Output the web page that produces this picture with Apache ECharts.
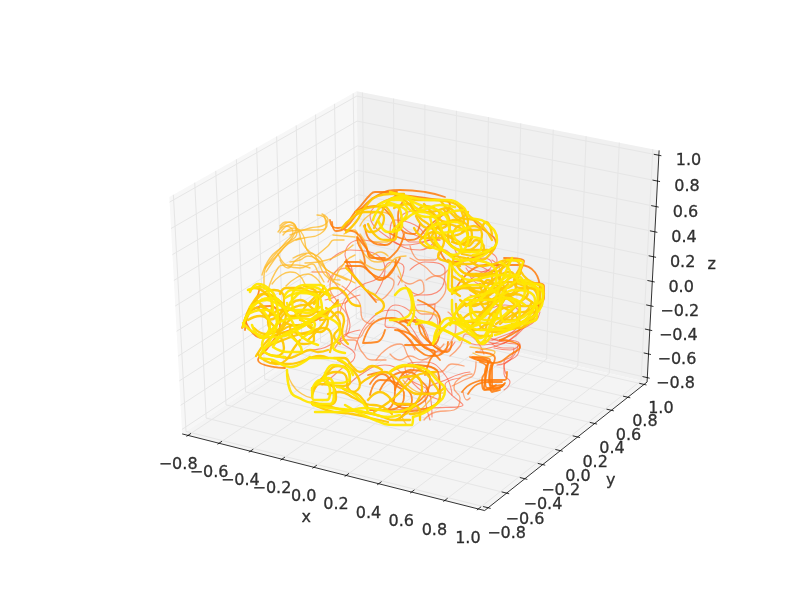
<!DOCTYPE html>
<html><head><meta charset="utf-8">
<style>html,body{margin:0;padding:0;background:#fff}#c{width:800px;height:600px}</style>
<script src="https://cdn.jsdelivr.net/npm/echarts@6/dist/echarts.min.js"></script>
</head><body><div id="c"></div>
<script>
// axis tick values (data units)
const xTicks = [-0.8,-0.6,-0.4,-0.2,0,0.2,0.4,0.6,0.8,1.0];
const yTicks = [-0.8,-0.6,-0.4,-0.2,0,0.2,0.4,0.6,0.8,1.0];
const zTicks = [-0.8,-0.6,-0.4,-0.2,0,0.2,0.4,0.6,0.8,1.0];
const axisNames = ['x','y','z'];

// streamlines, flat h,v pairs in the view plane
const redTraces = [
[-.30,-.06,-.26,.025,-.19,.075,-.11,.11,-.04,.19,.02,.16,-.01,.075],
[-.225,-.25,-.16,-.11,-.04,-.05,.05,-.13,.12,-.225,.21,-.26,.275,-.21],
[.085,-.025,.175,-.02,.17,-.06,.14,-.11],
[-.375,0,-.275,.05,-.24,.15,-.275,.225,-.2,.3,-.075,.275],
[.05,.15,.125,.19,.225,.15,.2,.05,.1,.025,.025,.075],
[.2,.3,.075,.325,0,.4,.1,.45,.225,.375],
[.275,-.175,.4,-.225,.575,-.15,.6,-.075,.525,-.025,.4,-.075],
[.4,-.25,.55,-.2,.65,-.11,.69,-.09],
[-.05,-.55,.15,-.54,.315,-.525,.225,-.425,.3,-.39],
[.15,-.6,.125,-.475,.25,-.39,.35,-.36],
[-.275,-.45,-.2,-.375,-.075,-.325,.05,-.4,.15,-.475,.16,-.585],
[-.39,-.425,-.3,-.35,-.225,-.275,-.3,-.2,-.2,-.15],
[-.45,-.25,-.35,-.225,-.25,-.125,-.275,-.025,-.2,.025],
[.2,-.5,.09,-.44,.025,-.34,.125,-.31,.225,-.375,.26,-.475],
[.35,.1,.45,.15,.5,.075,.45,0,.35,.025],
[.275,.25,.35,.16,.45,.14,.485,.2,.425,.25],
[0,.525,-.15,.425,-.04,.3,.1,.25,.2,.325],
[.15,.3,.025,.275,-.05,.325,-.025,.4,.075,.375,.125,.325],
[-.35,.2,-.25,.25,-.15,.24,-.075,.15,-.125,.025],
[.075,-.25,0,-.15,-.075,-.125,-.025,-.025,.1,-.11,.15,-.225],
[.45,-.19,.535,-.215,.59,-.225,.55,-.3,.485,-.325],
[.5,-.17,.58,-.13,.64,-.1,.68,-.07],
[.46,-.2,.54,-.17,.62,-.14,.68,-.1,.7,-.06],
[.42,-.2,.5,-.22,.56,-.19,.6,-.15],
[.33,.16,.38,.12,.43,.14,.46,.18,.42,.21,.37,.19],
[.35,.12,.4,.08,.46,.1,.5,.15,.46,.2],
[.36,.19,.42,.16,.46,.14,.49,.18],
[.01,.35,.05,.29,.1,.29,.16,.3,.2,.3],
[.47,-.24,.55,-.25,.6,-.22,.59,-.27,.52,-.33,.53,-.37],
[.44,-.2,.53,-.2,.59,-.21,.6,-.24],
[.46,-.22,.52,-.24,.57,-.24,.56,-.28,.52,-.31,.52,-.37,.55,-.41,.52,-.45]
];
const salmonTraces = [
[.07,-.02,.11,-.07,.16,-.07,.19,-.13,.17,-.2,.2,-.24],
[.22,-.22,.17,-.27,.11,-.3,.05,-.28,.0,-.3,-.05,-.27],
[.25,-.28,.3,-.23,.33,-.17,.38,-.2,.42,-.27],
[.24,-.06,.28,-.12,.26,-.2,.2,-.27],
[-.3,-.03,-.26,-.1,-.27,-.17,-.21,-.19,-.17,-.14,-.13,-.1],
[-.33,-.25,-.28,-.2,-.23,-.2,-.19,-.26,-.14,-.3,-.07,-.3],
[-.29,.07,-.24,.03,-.2,-.02,-.19,-.09,-.14,-.12],
[-.16,.05,-.11,0,-.06,.03,-.03,.09,-.08,.12],
[.13,.1,.18,.12,.23,.07,.2,0,.14,-.03],
[.05,.27,.1,.2,.17,.2,.22,.25,.27,.2],
[.05,.21,.12,.17,.19,.12,.24,.15],
[-.01,.12,.05,.08,.1,.1,.12,.05,.07,.02],
[-.12,-.3,-.06,-.24,0,-.22,.04,-.28,.07,-.34,.02,-.38],
[.02,-.42,.08,-.36,.14,-.33,.2,-.36,.26,-.32,.32,-.33],
[.12,-.6,.18,-.56,.27,-.55,.3,-.49,.27,-.44,.3,-.39,.36,-.37],
[.26,-.43,.32,-.4,.37,-.37,.38,-.31],
[.315,-.46,.335,-.5,.35,-.49],
[-.44,.14,-.38,.14,-.33,.09,-.3,.05,-.26,0,-.32,-.02,-.36,.03],
[-.36,.09,-.31,.15,-.26,.16,-.22,.11,-.18,.07],
[-.28,.18,-.33,.13,-.35,.06,-.31,-.03,-.31,-.1]
];
const orangeTraces = [
[.36,-.285,.45,-.3,.425,-.36,.435,-.44,.49,-.44,.525,-.415],
[.31,-.46,.365,-.415,.45,-.4,.525,-.4,.535,-.36],
[.35,-.285,.465,-.315,.565,-.265,.6,-.235,.565,-.21,.5,-.2],
[.455,-.325,.445,-.39,.46,-.43,.515,-.425],
[.4,-.31,.435,-.34,.41,-.4,.425,-.45,.48,-.425],
[.38,-.26,.475,-.29,.45,-.375,.46,-.46,.5,-.45],
[.37,-.29,.44,-.31,.43,-.38,.42,-.44,.47,-.45,.52,-.42],
[.39,-.3,.46,-.32,.46,-.4,.47,-.445,.51,-.43],
[.34,-.47,.39,-.42,.44,-.41,.51,-.41],
[0,-.11,.075,-.1,.11,-.175,.185,-.24,.235,-.26,.26,-.21],
[.025,-.1,.1,-.125,.14,-.2,.21,-.26],
[-.025,-.15,.06,-.175,.125,-.24,.175,-.26,.15,-.3,.125,-.375],
[-.04,-.1,.02,-.13,.06,-.18,.1,-.22,.16,-.26,.2,-.3],
[-.01,-.15,.05,-.2,.09,-.25,.16,-.28,.22,-.26,.24,-.21],
[-.35,.4,-.335,.365,-.31,.36,-.215,.45,-.15,.525,-.125,.54,-.015,.54],
[-.34,.39,-.32,.345,-.275,.36,-.19,.46,-.11,.525,0,.55,.125,.54,.225,.515],
[-.215,.315,-.21,.285,-.185,.235,-.175,.185],
[-.275,.35,-.225,.34,-.175,.275,-.14,.21,-.075,.21],
[-.275,.19,-.21,.19,-.15,.14,-.1,.1,-.04,.15,0,.21],
[-.225,.44,-.125,.47,-.05,.425,-.025,.35,-.075,.275,-.15,.3,-.175,.375],
[-.21,.31,-.17,.26,-.14,.22,-.08,.2,-.03,.23,0,.27,.02,.33],
[-.27,.17,-.2,.17,-.14,.13,-.09,.11,-.04,.14,-.02,.2],
[-.27,.2,-.24,.13,-.18,.06,-.12,-.01],
[.02,.5,-.01,.42,.02,.34,.07,.33,.1,.38],
[-.775,-.15,-.74,-.05,-.65,-.03,-.6,-.125,-.65,-.225,-.71,-.3,-.575,-.34],
[-.775,-.1,-.69,-.19,-.55,-.15,-.4,-.09,-.31,0],
[-.79,-.14,-.76,-.06,-.72,0,-.7,.07,-.76,.05],
[.3,.475,.39,.375,.48,.285,.36,.21,.25,.19,.2,.25],
[.275,.05,.425,.175,.6,.175,.7,.05,.65,-.1,.5,-.2],
[.52,.21,.62,.195,.59,.1,.72,.07,.72,.01,.66,-.04],
[-.025,.525,.125,.51,.25,.475,.15,.375,.05,.3,-.06,.34],
[.075,-.325,.19,-.36,.2,-.475,.1,-.55,-.025,-.56],
[-.025,-.45,.05,-.35,.15,-.39,.125,-.475,.025,-.525,-.05,-.5],
[-.16,-.375,-.075,-.36,-.025,-.45,-.075,-.55,-.15,-.55],
[-.15,-.475,-.1,-.4,0,-.425,.06,-.5,0,-.59],
[-.075,-.15,-.115,-.21,-.185,-.215,-.125,-.11,-.04,-.09,.05,-.125],
[.09,0,.2,-.1,.16,-.225,.025,-.225],
[-.1,-.45,-.04,-.38,.04,-.36,.1,-.4,.14,-.46,.1,-.52,.02,-.54,-.04,-.5],
[-.15,-.42,-.09,-.37,-.03,-.42,.02,-.47,0,-.53,-.07,-.55]
];
const amberTraces = [
[-.675,.16,-.635,.215,-.575,.285,-.535,.34,-.57,.37,-.61,.34],
[-.69,.125,-.65,.21,-.585,.27,-.515,.34,-.55,.39,-.6,.36],
[-.6,.335,-.55,.375,-.51,.35,-.49,.29,-.45,.24,-.4,.21,-.365,.15,-.285,.115,-.225,.085],
[-.585,.325,-.53,.36,-.485,.325,-.465,.25,-.41,.19,-.375,.125,-.3,.075],
[-.585,.34,-.485,.35,-.4,.35,-.365,.375,-.38,.415,-.415,.425],
[-.55,.325,-.45,.36,-.39,.37,-.36,.4,-.39,.43],
[-.475,.185,-.365,.2,-.235,.275],
[-.335,.09,-.275,.19,-.225,.225],
[-.66,.05,-.61,.16,-.575,.175,-.515,.175,-.45,.16],
[-.535,.21,-.45,.235,-.4,.185,-.365,.15,-.265,.1],
[-.335,.325,-.225,.315],
[.165,-.215,.2,-.1,.05,-.05],
[.35,-.235,.45,-.25,.475,-.26,.435,-.285,.365,-.265],
[.015,-.4,.115,-.465,.215,-.465],
[-.67,.14,-.63,.2,-.59,.25,-.54,.31,-.52,.36,-.57,.39,-.6,.37],
[-.68,.05,-.68,.12,-.61,.23,-.56,.28,-.5,.31],
[-.55,.19,-.5,.2,-.46,.22,-.41,.2,-.38,.17,-.35,.11,-.3,.1],
[-.6,.2,-.56,.16,-.52,.2,-.47,.23],
[-.64,.08,-.6,.12,-.55,.14,-.5,.12,-.46,.06,-.42,.05],
[-.57,.07,-.52,.11,-.46,.13,-.42,.11,-.38,.06,-.34,.02],
[-.42,.22,-.36,.27,-.33,.3,-.28,.3],
[-.38,.42,-.37,.38,-.4,.33,-.48,.31,-.52,.3],
[-.56,-.37,-.54,-.42,-.49,-.47,-.44,-.49],
[.03,-.62,.01,-.58,.08,-.56,.15,-.5,.2,-.42,.16,-.36],
[-.2,.37,-.16,.42,-.1,.44,-.04,.41,-.03,.34,-.07,.29,-.13,.29],
[-.2,.33,-.17,.28,-.15,.22,-.1,.24,-.06,.22],
[-.61,.23,-.56,.17,-.5,.16,-.44,.18,-.41,.14,-.38,.09],
[-.28,.33,-.23,.35,-.2,.28,-.17,.22,-.11,.19,-.05,.2,-.01,.16,.01,.09],
[-.2,.2,-.16,.17,-.1,.15,-.06,.17,-.02,.21,.03,.22]
];
const goldTraces = [
[-.78,-.12,-.74,-.02,-.68,.03,-.62,.01,-.57,-.06,-.6,-.14,-.67,-.17,-.73,-.14],
[-.77,-.1,-.72,-.04,-.66,-.08,-.6,-.05,-.53,-.09,-.47,-.03,-.42,.02],
[-.73,.06,-.68,.04,-.64,-.03,-.66,-.11,-.62,-.16,-.55,-.13,-.48,-.12,-.42,-.08],
[-.7,-.03,-.63,-.07,-.56,-.12,-.5,-.13,-.43,-.1,-.37,-.06],
[-.68,-.18,-.62,-.13,-.58,-.07,-.51,-.03,-.45,-.02,-.4,.03,-.38,.07],
[-.72,-.28,-.66,-.2,-.61,-.17,-.55,-.16,-.47,-.17,-.42,-.15],
[-.71,-.27,-.68,-.3,-.62,-.32,-.57,-.3,-.53,-.24,-.5,-.2],
[-.64,-.31,-.56,-.32,-.5,-.31,-.45,-.29,-.4,-.28,-.36,-.29],
[-.46,-.2,-.42,-.16,-.38,-.11,-.35,-.05,-.31,-.01],
[-.6,.03,-.57,.06,-.5,.06,-.44,.04,-.39,.04,-.35,.02],
[-.67,.03,-.6,-.02,-.55,-.08,-.47,-.08,-.41,-.02,-.42,.04,-.48,.07],
[-.745,-.04,-.7,.02,-.63,.05,-.58,.01,-.6,-.07,-.66,-.1],
[-.5,-.1,-.44,-.14,-.43,-.2,-.48,-.22,-.53,-.19,-.55,-.13],
[-.68,-.24,-.61,-.21,-.53,-.18,-.46,-.16,-.38,-.14,-.34,-.2,-.35,-.26],
[-.6,-.16,-.54,-.09,-.46,-.05,-.4,-.06,-.36,-.1,-.4,-.16,-.46,-.13],
[-.72,0,-.66,-.05,-.62,-.08,-.56,-.03,-.5,0,-.44,-.04,-.39,-.08],
[-.76,-.1,-.7,-.08,-.64,-.12,-.6,-.18,-.58,-.24,-.62,-.28,-.68,-.26],
[-.62,-.28,-.56,-.29,-.5,-.27,-.45,-.25,-.41,-.26,-.36,-.25],
[-.44,-.48,-.4,-.42,-.34,-.43,-.32,-.49,-.37,-.53,-.44,-.52],
[-.43,-.44,-.37,-.37,-.31,-.33,-.26,-.35,-.25,-.41,-.3,-.43,-.36,-.42],
[-.44,-.51,-.36,-.53,-.28,-.55,-.19,-.56,-.1,-.58,-.03,-.6,.05,-.6],
[-.42,-.53,-.33,-.56,-.24,-.57,-.15,-.59,-.06,-.61],
[-.38,-.38,-.32,-.36,-.27,-.38,-.26,-.44,-.2,-.48,-.16,-.54],
[-.36,-.47,-.3,-.46,-.23,-.49,-.17,-.52,-.1,-.53,-.04,-.57],
[-.31,-.3,-.26,-.33,-.22,-.37,-.2,-.42,-.24,-.46,-.29,-.44],
[-.33,-.29,-.28,-.29,-.24,-.33,-.2,-.36,-.14,-.33,-.09,-.35],
[-.05,-.36,.04,-.33,.12,-.36,.17,-.42,.2,-.48,.13,-.55,.05,-.57],
[-.02,-.6,.04,-.56,.09,-.5,.11,-.44,.07,-.38,0,-.39],
[-.2,-.42,-.14,-.38,-.08,-.36,-.02,-.39,.03,-.44,.09,-.47,.16,-.47,.22,-.44],
[-.16,-.5,-.1,-.46,-.06,-.48,-.02,-.52,.04,-.52,.1,-.56,.1,-.6],
[-.13,-.56,-.07,-.52,-.02,-.48,.04,-.42,.1,-.37,.18,-.36],
[.28,.18,.34,.13,.42,.13,.5,.17,.56,.2,.6,.17,.57,.1,.6,.06,.68,.06],
[.3,.06,.38,.1,.46,.08,.54,.09,.62,.07,.7,.03,.7,-.03,.64,-.07],
[.33,-.03,.41,.04,.48,.11,.55,.14,.58,.07,.53,.01,.46,-.02,.42,-.07],
[.27,-.08,.34,-.02,.42,-.02,.49,.02,.56,.03,.63,.01,.68,-.05,.63,-.1,.56,-.12],
[.3,-.11,.38,-.06,.46,-.07,.52,-.04,.59,-.03,.66,-.03],
[.35,.05,.42,.01,.5,-.03,.57,-.07,.6,-.12,.54,-.15,.47,-.16,.4,-.13],
[.38,.13,.43,.05,.44,-.02,.4,-.09,.36,-.13,.4,-.18,.46,-.18],
[.46,.14,.47,.06,.53,.06,.6,.1,.64,.04,.59,-.02,.53,-.08,.48,-.12],
[.52,.18,.5,.11,.53,.04,.5,-.03,.45,-.08,.43,-.14],
[.31,.12,.35,.06,.4,.06,.44,.1,.49,.07,.55,.11,.6,.13],
[.26,.03,.32,.06,.38,.03,.42,-.04,.49,-.09,.56,-.1,.62,-.07,.66,-.01],
[.28,-.02,.3,-.09,.36,-.11,.41,-.06,.47,-.01,.52,.01,.57,-.02],
[.6,.15,.64,.1,.7,.07,.72,.03],
[.41,.11,.47,.13,.5,.07,.47,0,.42,.03,.4,.08],
[.34,.21,.4,.17,.47,.18,.54,.2,.6,.2],
[.3,.15,.37,.12,.44,.12,.5,.15,.55,.19],
[.26,.12,.33,.08,.4,.04,.46,.04,.54,.08],
[.44,.02,.5,.06,.55,.02,.6,.05,.65,.06,.69,0,.65,-.05,.57,-.07,.5,-.12],
[.32,-.12,.38,-.15,.44,-.12,.5,-.14,.58,-.14,.64,-.12,.68,-.07],
[.3,0,.37,-.03,.44,.02,.5,.05,.56,.01,.6,-.03,.56,-.09],
[-.02,.53,.08,.5,.17,.5,.25,.49,.31,.45,.34,.39,.3,.33,.24,.32],
[0,.52,.08,.46,.15,.44,.24,.46,.3,.41,.37,.4,.42,.36,.46,.3],
[.08,.42,.14,.36,.21,.36,.27,.4,.33,.38,.36,.32,.33,.27],
[.14,.33,.18,.27,.25,.23,.32,.21,.4,.2,.46,.24,.48,.28],
[.18,.38,.22,.33,.28,.3,.34,.27,.38,.3,.42,.26,.38,.22,.31,.23],
[.22,.45,.25,.38,.24,.32,.27,.26,.33,.25,.38,.27,.41,.33,.37,.37,.31,.34],
[.05,.48,.1,.41,.15,.37,.18,.31,.15,.26,.1,.29],
[.3,.46,.32,.39,.28,.36,.26,.31,.3,.28,.36,.31],
[.27,.22,.26,.14,.26,.07,.3,.02],
[.24,.2,.3,.18,.35,.18,.39,.2],
[-.03,.46,.04,.48,.08,.44,.12,.47,.17,.46,.2,.42,.16,.37],
[.1,.3,.17,.34,.22,.29,.19,.22,.24,.19,.3,.17],
[.12,.48,.18,.42,.23,.39,.29,.4,.34,.44],
[.16,.32,.22,.38,.3,.36,.34,.33,.31,.28,.26,.29],
[.07,.36,.13,.31,.2,.31,.26,.27,.32,.24,.38,.25,.44,.25],
[.2,.5,.25,.44,.3,.39,.34,.35,.39,.35,.43,.39,.46,.33],
[-.22,.44,-.16,.46,-.09,.47,-.05,.44,-.03,.38],
[-.27,.34,-.22,.39,-.17,.47,-.11,.52,-.05,.53,.02,.53],
[-.13,.36,-.1,.42,-.05,.5,.02,.52,.06,.48],
[-.29,.36,-.24,.41,-.18,.44,-.12,.44,-.08,.41,-.1,.36,-.15,.34,-.18,.37],
[-.16,.38,-.12,.32,-.07,.3,-.03,.3,-.01,.36,.03,.41],
[-.27,.16,-.23,.12,-.17,.05,-.12,.02,-.08,-.03,-.12,-.07],
[-.43,-.02,-.38,.03,-.33,.06,-.28,.04,-.24,-.02,-.2,-.03],
[-.37,-.04,-.32,-.08,-.3,-.13,-.33,-.18,-.3,-.22],
[-.4,-.1,-.35,-.09,-.31,-.06,-.28,-.1,-.29,-.16,-.26,-.22]
];
const yellowTraces = [
[-.785,-.135,-.75,-.065,-.665,-.05,-.615,-.115,-.64,-.185,-.7,-.285,-.635,-.3,-.55,-.335,-.45,-.285],
[-.785,-.115,-.725,-.165,-.635,-.185,-.515,-.15,-.365,-.05,-.3,-.025],
[-.41,-.075,-.315,-.115,-.3,-.165,-.335,-.235,-.275,-.265],
[-.635,-.235,-.575,-.175,-.51,-.215,-.49,-.26,-.56,-.26,-.635,-.235],
[-.685,-.25,-.6,-.185,-.45,-.1,-.385,-.05],
[-.75,-.035,-.665,0,-.585,-.035,-.465,-.065,-.4,-.035],
[-.565,-.015,-.535,-.05,-.435,-.05,-.415,0,-.5,.035,-.575,.01],
[-.76,.05,-.7,.065,-.65,.025,-.635,-.05],
[-.75,.04,-.71,.08,-.66,.06,-.62,0,-.61,-.09,-.66,-.175],
[-.55,-.015,-.435,.065,-.365,.025],
[-.575,.025,-.54,.05,-.45,.035,-.4,.01,-.39,-.05],
[-.77,-.09,-.71,-.01,-.64,.01,-.55,-.09,-.5,-.175,-.41,-.225],
[-.74,-.125,-.69,-.19,-.6,-.11,-.51,-.09,-.425,-.125,-.49,-.19],
[-.69,-.05,-.65,-.125,-.69,-.225,-.65,-.275,-.575,-.285],
[-.35,0,-.4,.075,-.475,.075,-.54,.01,-.515,-.075,-.44,-.125],
[-.565,-.35,-.55,-.45,-.485,-.5,-.435,-.515],
[-.435,-.435,-.4,-.4,-.35,-.45,-.365,-.5,-.435,-.5,-.44,-.44],
[-.385,-.4,-.335,-.325,-.275,-.34,-.25,-.385,-.3,-.415,-.35,-.415,-.375,-.365],
[-.435,-.525,-.35,-.54,-.235,-.55,-.15,-.565,-.065,-.585,0,-.575],
[-.315,-.435,-.265,-.45,-.185,-.515,-.16,-.56],
[-.45,-.29,-.35,-.29,-.275,-.315,-.235,-.375],
[-.275,-.525,-.15,-.59,-.025,-.625,.06,-.625,.065,-.585],
[-.05,-.36,.025,-.325,.115,-.34,.185,-.4,.225,-.45,.165,-.535,.065,-.585],
[-.42,-.425,-.36,-.39,-.33,-.46,-.35,-.52,-.42,-.52],
[-.425,-.56,-.3,-.56,-.175,-.54,-.025,-.56,.075,-.525],
[-.05,.54,.05,.515,.15,.5,.235,.5,.315,.465,.35,.415,.425,.39,.485,.3,.465,.26,.365,.225],
[.165,.315,.215,.25,.315,.2,.4,.215,.46,.26],
[.31,.29,.35,.315,.41,.29,.385,.24,.325,.24,.3,.285],
[-.05,.5,0,.5,.05,.45,.15,.415,.25,.44,.315,.45],
[-.05,.485,.035,.435,0,.385,-.035,.35],
[.15,.415,.2,.335,.3,.35,.35,.365],
[.25,.185,.24,.065,.275,.035],
[.535,.2,.615,.19,.585,.1,.715,.065,.715,.015,.65,-.035],
[.4,0,.475,.075,.575,.125,.625,.05,.55,-.05,.45,-.1,.375,-.075,.35,0],
[.25,.185,.35,.1,.5,.125,.65,.075,.715,.025,.675,-.075,.55,-.125,.45,-.15],
[.25,.05,.375,.075,.5,.025,.6,-.05,.525,-.15,.4,-.15,.3,-.075],
[.325,0,.45,0,.575,.05,.675,0,.625,-.1,.475,-.175],
[.165,-.215,.265,-.115,.365,-.165,.4,-.215,.45,-.15,.5,-.035],
[.26,0,.26,-.05,.335,-.135],
[.35,-.035,.365,-.1,.435,-.115,.485,-.065,.515,0],
[.535,-.135,.635,-.115,.685,-.085,.685,-.035],
[.085,-.1,.165,-.125,.35,-.215],
[.08,-.12,.14,-.11,.2,-.14,.26,-.17,.3,-.2],
[.165,-.22,.22,-.14,.27,-.11,.33,-.13,.38,-.19,.41,-.22,.46,-.17],
[.17,-.2,.19,-.14,.25,-.09,.31,-.1,.36,-.13,.4,-.12],
[.25,-.1,.3,-.13,.35,-.17,.4,-.19,.44,-.15,.47,-.07],
[.04,.05,.06,-.025,.025,-.09,-.05,-.1],
[-.025,.025,.025,.06,.06,.025,.07,-.06,.04,-.125],
[.3,.275,.25,.35,.225,.425,.1,.475,0,.51,-.11,.475],
[.175,.3,.26,.225,.34,.3,.275,.39,.175,.375,.125,.3,.2,.25],
[.5,.19,.55,.14,.475,.05,.4,.025,.325,0,.25,-.125],
[.56,.21,.5,.075,.45,-.05,.375,-.1,.275,-.11],
[.275,.175,.35,.2,.425,.19,.485,.125,.425,.025,.335,-.025],
[.625,.1,.69,.04,.65,-.06,.525,-.11,.5,0,.575,.09],
[.275,-.175,.375,-.125,.44,-.05,.54,.01,.625,-.025],
[-.135,.4,-.075,.475,0,.45,.01,.375,-.06,.34,-.11,.4],
[-.065,.475,-.035,.51,.025,.515,.1,.45,.2,.475,.275,.465],
[.025,.4,.1,.44,.185,.4,.225,.31,.29,.25,.35,.24]
];

// --- matplotlib-style 3D projection (elev 30, azim -60, dist 10) onto the hidden view-plane axes
const LIM = [-0.8, 1.0];
const ext = (LIM[1]-LIM[0])/48;
const LO = LIM[0]-ext, HI = LIM[1]+ext;
const U=[0.8660254,0.5,0], V=[-0.25,0.4330127,0.8660254], N=[0.4330127,-0.75,0.5];
function proj(x,y,z){
  const s=LIM[1]-LIM[0], c=[(x-LIM[0])/s-.5,(y-LIM[0])/s-.5,(z-LIM[0])/s-.5];
  const dot=(a,b)=>a[0]*b[0]+a[1]*b[1]+a[2]*b[2];
  const w=10-dot(c,N), px=dot(c,U)/w, py=dot(c,V)/w;
  const X=100+620*(px+.095)/.185, Yb=60+480*(py+.095)/.185;
  return [(X-400)/200,(Yb-300)/200];
}
const seg=(list,a,b)=>{list.push(proj(...a),proj(...b),[null,null]);};
const gridSeg=[], tickSeg=[];
const T=0.15;
xTicks.forEach(t=>{
  seg(gridSeg,[t,LO,LO],[t,HI,LO]); seg(gridSeg,[t,HI,LO],[t,HI,HI]);
  seg(tickSeg,[t,LO-.1*T,LO],[t,LO+.2*T,LO]);
});
yTicks.forEach(t=>{
  seg(gridSeg,[HI,t,LO],[LO,t,LO]); seg(gridSeg,[LO,t,LO],[LO,t,HI]);
  seg(tickSeg,[HI+.1*T,t,LO],[HI-.2*T,t,LO]);
});
zTicks.forEach(t=>{
  seg(gridSeg,[LO,LO,t],[LO,HI,t]); seg(gridSeg,[LO,HI,t],[HI,HI,t]);
  seg(tickSeg,[HI+.1*T,HI,t],[HI-.2*T,HI,t]);
});
const axisSeg=[]; 
seg(axisSeg,[LO,LO,LO],[HI,LO,LO]); seg(axisSeg,[HI,LO,LO],[HI,HI,LO]); seg(axisSeg,[HI,HI,LO],[HI,HI,HI]);

const panes=[
 {fill:'#f7f7f7',pts:[[LO,LO,LO],[LO,HI,LO],[LO,HI,HI],[LO,LO,HI]]},
 {fill:'#f0f0f0',pts:[[LO,HI,LO],[HI,HI,LO],[HI,HI,HI],[LO,HI,HI]]},
 {fill:'#f4f4f4',pts:[[LO,LO,LO],[HI,LO,LO],[HI,HI,LO],[LO,HI,LO]]}
];
const fmt=t=>(t<0?'\u2212':'')+Math.abs(t).toFixed(1);
const labelData=[];
xTicks.forEach(t=>labelData.push({name:fmt(t),value:proj(t,LO-.108,LO-.181)}));
yTicks.forEach(t=>labelData.push({name:fmt(t),value:proj(HI+.112,t,LO-.177)}));
zTicks.forEach(t=>labelData.push({name:fmt(t),value:proj(HI+.156,HI+.042,t-.025)}));
labelData.push({name:axisNames[0],value:proj(.1,LO-.248,LO-.24)});
labelData.push({name:axisNames[1],value:proj(HI+.26,.1,LO-.22)});
labelData.push({name:axisNames[2],value:proj(HI+.255,HI+.207,.11)});

const pairs=a=>{const o=[];for(let i=0;i<a.length;i+=2)o.push([a[i],a[i+1]]);return o;};
const traceSeries=(traces,color,width,opacity)=>traces.map(t=>({
  type:'line',data:pairs(t),smooth:0.5,showSymbol:false,symbol:'none',silent:true,clip:false,
  lineStyle:{color,width,opacity,cap:'round',join:'round'}
}));
const plain=(data,color,width)=>({type:'line',data,showSymbol:false,symbol:'none',silent:true,clip:false,connectNulls:false,
  lineStyle:{color,width}});

const series=[
 {type:'custom',silent:true,clip:false,coordinateSystem:'cartesian2d',data:panes.map((p,i)=>[i]),
  renderItem:(params,api)=>{const p=panes[api.value(0)];
    return {type:'polygon',shape:{points:p.pts.map(q=>api.coord(proj(...q)))},style:{fill:p.fill}};}},
 plain(gridSeg,'#e6e6e6',1),
 plain(axisSeg,'#000',0.8),
 plain(tickSeg,'#000',0.8),
 {type:'scatter',symbolSize:0,silent:true,clip:false,data:labelData,
  label:{show:true,position:'inside',formatter:p=>p.name,color:'#000',fontFamily:'DejaVu Sans',fontSize:16,textBorderColor:'#000',textBorderWidth:0.3}},
 ...traceSeries(redTraces,'#ff4a2a',1.1,0.6),
 ...traceSeries(salmonTraces,'#ff7d3c',1.3,0.65),
 ...traceSeries(amberTraces,'#ffb820',1.4,0.75),
 ...traceSeries(orangeTraces,'#ff7a08',1.8,0.85),
 ...traceSeries(goldTraces,'#ffc800',2.3,0.95),
 ...traceSeries(yellowTraces,'#ffe600',2.5,0.95)
];
const chart=echarts.init(document.getElementById('c'),null,{renderer:'canvas'});
chart.setOption({animation:false,backgroundColor:'#fff',
  grid:{left:0,right:0,top:0,bottom:0},
  xAxis:{type:'value',min:-2,max:2,show:false},
  yAxis:{type:'value',min:-1.5,max:1.5,show:false},
  series});
</script></body></html>
